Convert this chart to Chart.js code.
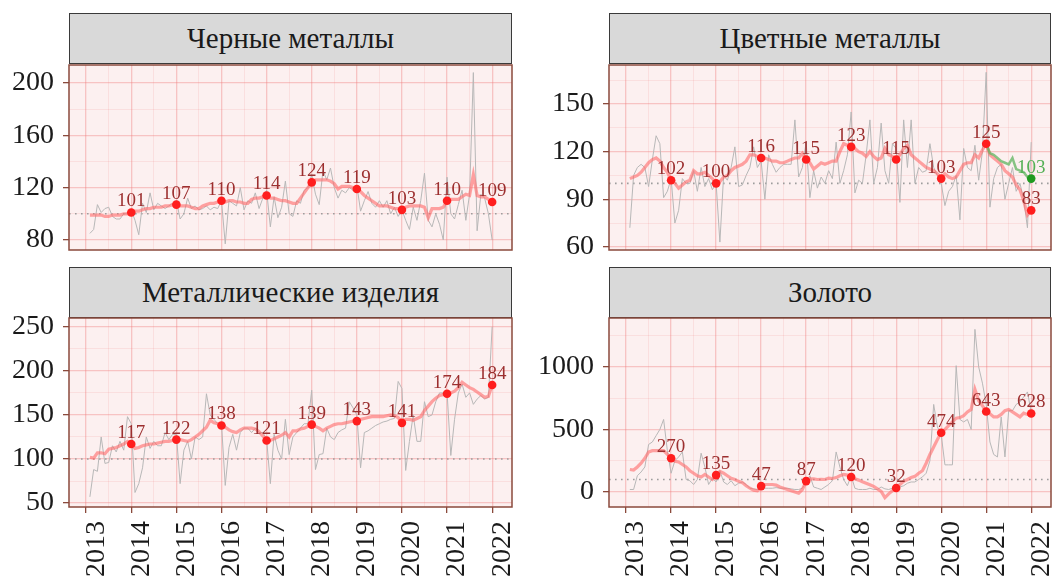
<!DOCTYPE html>
<html>
<head>
<meta charset="utf-8">
<script src="https://cdn.jsdelivr.net/npm/chart.js@4.4.0/dist/chart.umd.min.js"></script>
<style>
html, body { margin: 0; padding: 0; background: #fff; }
body { width: 1062px; height: 582px; position: relative; overflow: hidden; }
canvas { position: absolute; left: 0; top: 0; }
.strip { position: absolute; box-sizing: border-box; background: #d9d9d9; border: 1px solid #3a3a3a;
         color: #1a1a1a; font-family: 'Liberation Serif', 'Times New Roman', Tinos, 'DejaVu Serif', serif;
         font-size: 29px; text-align: center; line-height: 49px; }
</style>
</head>
<body>
<div class="strip" style="left:69px;top:13px;width:443px;height:51px">Черные металлы</div>
<div class="strip" style="left:609px;top:13px;width:442px;height:51px">Цветные металлы</div>
<div class="strip" style="left:69px;top:267px;width:443px;height:51px">Металлические изделия</div>
<div class="strip" style="left:609px;top:267px;width:442px;height:51px">Золото</div>
<canvas id="c0" width="1062" height="582"></canvas>
<canvas id="c1" width="1062" height="582"></canvas>
<canvas id="c2" width="1062" height="582"></canvas>
<canvas id="c3" width="1062" height="582"></canvas>
<script>
// monthly index values, Jan 2013 .. Dec 2021 (one row per year)
const ferrousRaw = [
    85, 88, 107, 101, 104, 105, 98, 96, 96, 100, 100, 103,
    95, 84, 108, 101, 116, 103, 108, 106, 104, 106, 108, 110,
    96, 100, 112, 104, 106, 103, 104, 106, 103, 105, 104, 110,
    77, 110, 108, 106, 120, 103, 110, 108, 116, 104, 112, 118,
    90, 113, 97, 105, 125, 100, 98, 110, 108, 118, 120, 130,
    115, 107, 133, 126, 135, 120, 112, 118, 116, 120, 118, 122,
    102, 110, 117, 108, 105, 110, 105, 110, 100, 105, 98, 103,
    95, 88, 105, 95, 110, 131, 95, 90, 100, 92, 80, 128,
    100, 96, 107, 118, 95, 115, 208, 87, 115, 112, 100, 80
];
const ferrousTrend = [
    99, 99, 99, 99, 98, 98, 99, 99, 99, 100, 100, 101,
    102, 102, 103, 104, 104, 105, 105, 105, 106, 106, 107, 107,
    106, 106, 106, 105, 104, 104, 106, 107, 108, 108, 109, 110,
    109, 110, 110, 109, 109, 108, 108, 111, 112, 112, 113, 114,
    112, 112, 111, 110, 110, 109, 108, 108, 112, 116, 120, 124,
    126, 126, 126, 126, 125, 123, 119, 121, 121, 121, 120, 119,
    117, 114, 112, 110, 108, 106, 106, 106, 105, 104, 104, 103,
    105, 106, 106, 106, 106, 105, 97, 104, 104, 104, 105, 110,
    111, 111, 111, 113, 115, 114, 130, 114, 113, 113, 111, 109
];
const ferrousYear = [101, 107, 110, 114, 124, 119, 103, 110, 109];

const nonferrousRaw = [
    72, 105, 110, 112, 110, 98, 115, 130, 125, 91, 95, 103,
    75, 83, 103, 100, 100, 108, 95, 110, 98, 103, 96, 100,
    63, 105, 102, 110, 123, 98, 99, 105, 110, 123, 110, 114,
    90, 118, 112, 107, 110, 112, 112, 112, 140, 104, 110, 126,
    91, 108, 97, 104, 100, 108, 103, 126, 100, 108, 118, 145,
    94, 102, 100, 118, 140, 100, 110, 138, 108, 100, 125, 122,
    88, 140, 110, 140, 100, 110, 107, 108, 125, 110, 105, 100,
    86, 95, 98, 105, 77, 122, 110, 108, 124, 102, 120, 170,
    85, 103, 110, 112, 90, 100, 110, 95, 100, 90, 72, 126
];
const nonferrousTrend = [
    103, 104, 105, 107, 110, 113, 115, 116, 114, 110, 107, 102,
    100, 97, 99, 101, 102, 108, 106, 106, 107, 105, 103, 100,
    101, 104, 105, 108, 110, 111, 112, 114, 118, 118, 117, 116,
    116, 115, 114, 114, 113, 113, 114, 115, 116, 116, 119, 115,
    113, 109, 111, 113, 112, 113, 114, 114, 120, 125, 124, 123,
    122, 120, 119, 117, 120, 117, 115, 116, 122, 118, 117, 115,
    118, 122, 124, 118, 116, 114, 112, 110, 109, 108, 106, 103,
    106, 104, 103, 104, 108, 112, 113, 113, 118, 116, 121, 125,
    118, 116, 114, 112, 108, 106, 104, 99, 96, 89, 80, 83
];
const nonferrousYear = [102, 100, 116, 115, 123, 115, 103, 125, 83];
// alternative trend, Dec 2020 .. Dec 2021
const nonferrousAlt = [125, 119, 118, 116, 114, 113, 112, 116, 109, 108, 107, 104, 103];

const productsRaw = [
    57, 88, 86, 125, 95, 96, 115, 108, 120, 110, 148, 140,
    62, 72, 90, 125, 112, 120, 115, 115, 130, 122, 128, 128,
    72, 110, 120, 100, 125, 122, 125, 174, 150, 145, 140, 140,
    70, 113, 128, 110, 130, 135, 135, 130, 135, 130, 130, 123,
    72, 128, 110, 100, 145, 105, 125, 130, 135, 140, 140, 178,
    88, 105, 106, 135, 125, 122, 130, 133, 135, 165, 158, 150,
    90, 130, 132, 135, 138, 140, 142, 143, 145, 146, 188, 180,
    87, 120, 150, 120, 120, 165, 148, 150, 165, 175, 175, 176,
    104, 145, 175, 185, 170, 175, 162, 168, 172, 168, 170, 250
];
const productsTrend = [
    102, 101, 107, 107, 106, 111, 112, 113, 115, 117, 120, 117,
    112, 113, 115, 116, 117, 117, 118, 119, 120, 120, 121, 122,
    122, 121, 120, 122, 125, 128, 132, 136, 144, 141, 140, 138,
    136, 133, 131, 130, 133, 135, 135, 135, 134, 131, 126, 121,
    121, 123, 125, 127, 130, 125, 132, 132, 134, 135, 137, 139,
    137, 135, 132, 135, 137, 139, 140, 140, 141, 142, 143, 143,
    145, 146, 147, 148, 148, 148, 148, 149, 150, 149, 147, 141,
    145, 145, 144, 146, 148, 155, 160, 165, 169, 172, 173, 174,
    175, 177, 181, 187, 184, 181, 179, 176, 173, 170, 171, 184
];
const productsYear = [117, 122, 138, 121, 139, 143, 141, 174, 184];

const goldRaw = [
    20, 20, 130, 160, 200, 380, 400, 450, 500, 580, 330, 150,
    250, 280, 320, 100, 90, 60, 100, 310, 200, 60, 110, 80,
    170, 80, 60, 90, 50, 70, 80, 60, 30, 25, 20, 20,
    30, 30, 30, 35, 30, 30, 30, 25, 20, 20, 30, 80,
    130, 40, 30, 20, 40, 60, 90, 320, 200, 100, 50, 130,
    30, 20, 20, 20, 30, 20, 20, 40, 25, 20, 30, 10,
    40, 50, 70, 80, 80, 100, 120, 150, 250, 700, 520, 460,
    217, 217, 217, 1010, 580, 560, 580, 500, 1300, 1000, 870, 700,
    400, 300, 280, 600, 280, 650, 650, 700, 720, 760, 800, 640
];
const goldTrend = [
    180, 175, 200, 230, 270, 320, 330, 330, 330, 330, 300, 270,
    245, 240, 220, 200, 170, 150, 130, 120, 140, 120, 100, 135,
    165, 150, 130, 110, 100, 85, 75, 50, 30, 15, 10, 47,
    60, 60, 60, 55, 40, 30, 20, 10, 0, -10, 20, 87,
    105, 105, 100, 102, 100, 110, 108, 115, 130, 140, 135, 120,
    105, 95, 82, 70, 58, 45, 25, 5, -45, -15, 10, 32,
    60, 85, 100, 115, 125, 150, 170, 230, 300, 360, 420, 474,
    500, 530, 560, 590, 595, 610, 640, 660, 820, 730, 690, 643,
    625, 600, 600, 620, 650, 660, 640, 620, 600, 630, 620, 628
];
const goldYear = [270, 135, 47, 87, 120, 32, 474, 643, 628];

const yearTicks = [2013, 2014, 2015, 2016, 2017, 2018, 2019, 2020, 2021, 2022];
const pointYears = [2014, 2015, 2016, 2017, 2018, 2019, 2020, 2021, 2022];
const ferrousTicks = [80, 120, 160, 200];
const nonferrousTicks = [60, 90, 120, 150];
const productsTicks = [50, 100, 150, 200, 250];
const goldTicks = [0, 500, 1000];
const refLevel = 100;

const W = 1062, H = 582;
const months = ferrousRaw.map((v, i) => 2013 + (i + 1) / 12);

const serifFamily = "'Liberation Serif', 'Times New Roman', Tinos, 'DejaVu Serif', serif";
const panelFill = '#fcf0f0';
const majorGrid = 'rgba(238,120,120,0.38)';
const minorGrid = 'rgba(238,120,120,0.16)';
const axisBrown = '#8b4a3c';
const rawGrey = '#b8b8b8';
const trendRed = 'rgba(255,105,105,0.6)';
const pointRed = '#ff1e1e';
const labelRed = '#9c2f2f';

Chart.defaults.font.family = serifFamily;
Chart.defaults.color = '#1a1a1a';

// minor breaks half way between major ones, kept inside the range
function withMinor(major, min, max) {
    const step = major[1] - major[0];
    const out = [];
    for (let v = major[0] - step / 2; v <= major[major.length - 1] + step / 2; v += step / 2) {
        if (v >= min && v <= max) out.push(v);
    }
    return out;
}

const panelDeco = {
    id: 'panelDeco',
    beforeDraw(chart) {
        const { ctx, chartArea: a } = chart;
        ctx.save();
        ctx.fillStyle = panelFill;
        ctx.fillRect(a.left, a.top, a.width, a.height);
        ctx.restore();
    },
    beforeDatasetsDraw(chart) {
        const { ctx, chartArea: a } = chart;
        const y = chart.scales.y.getPixelForValue(refLevel);
        ctx.save();
        ctx.strokeStyle = '#9d9d9d';
        ctx.lineWidth = 1.6;
        ctx.setLineDash([1.6, 4.4]);
        ctx.beginPath();
        ctx.moveTo(a.left, y);
        ctx.lineTo(a.right, y);
        ctx.stroke();
        ctx.restore();
    },
    afterDatasetsDraw(chart) {
        const ctx = chart.ctx;
        ctx.save();
        ctx.font = '19px ' + serifFamily;
        ctx.textAlign = 'center';
        ctx.textBaseline = 'alphabetic';
        chart.data.datasets.forEach((ds, di) => {
            if (!ds.valueLabels) return;
            ctx.fillStyle = ds.labelColor;
            chart.getDatasetMeta(di).data.forEach((el, i) => {
                ctx.fillText(String(ds.data[i].y), el.x, el.y - 6);
            });
        });
        ctx.restore();
    },
    afterDraw(chart) {
        const { ctx, chartArea: a } = chart;
        ctx.save();
        ctx.strokeStyle = axisBrown;
        ctx.lineWidth = 1.5;
        ctx.strokeRect(a.left, a.top, a.width, a.height);
        ctx.restore();
    }
};

function makePanel(p) {
    const [left, top, right, bottom] = p.box;
    const xAxisH = p.showX ? 75 : 0;
    const yAxisW = Math.min(left, 80);
    const xMin = 2012.62, xMax = 2022.44;
    const yAll = withMinor(p.yMajor, p.yMin, p.yMax);
    const xAll = withMinor(yearTicks, xMin, xMax);

    const datasets = [
        {
            data: pointYears.map((x, i) => ({ x, y: p.year[i] })),
            showLine: false, pointRadius: 4.3, pointBackgroundColor: pointRed, pointBorderWidth: 0,
            valueLabels: true, labelColor: labelRed, order: 0
        },
        {
            data: months.map((x, i) => ({ x, y: p.trend[i] })),
            borderColor: trendRed, borderWidth: 3.2, pointRadius: 0, tension: 0, order: 2
        },
        {
            data: months.map((x, i) => ({ x, y: p.raw[i] })),
            borderColor: rawGrey, borderWidth: 1, pointRadius: 0, tension: 0, order: 4
        }
    ];
    if (p.alt) {
        const start = months.length - p.alt.length;
        datasets.push({
            data: p.alt.map((y, i) => ({ x: months[start + i], y })),
            borderColor: 'rgba(95,180,95,0.75)', borderWidth: 2.5, pointRadius: 0, tension: 0, order: 1
        });
        datasets.push({
            data: [{ x: months[months.length - 1], y: p.alt[p.alt.length - 1] }],
            showLine: false, pointRadius: 4.3, pointBackgroundColor: '#1f9a1f', pointBorderWidth: 0,
            valueLabels: true, labelColor: '#55b055', order: 0
        });
    }

    new Chart(document.getElementById(p.id), {
        type: 'line',
        data: { datasets },
        options: {
            responsive: false,
            animation: false,
            events: [],
            layout: { padding: { left: left - yAxisW, top: top, right: W - right, bottom: H - bottom - xAxisH } },
            plugins: { legend: { display: false }, tooltip: { enabled: false } },
            scales: {
                x: {
                    type: 'linear', min: xMin, max: xMax,
                    afterBuildTicks: s => { s.ticks = xAll.map(v => ({ value: v })); },
                    afterFit: s => { s.height = xAxisH; s.paddingLeft = 0; s.paddingRight = 0; },
                    border: { display: false },
                    grid: {
                        color: c => Number.isInteger(c.tick.value) ? majorGrid : minorGrid,
                        lineWidth: c => Number.isInteger(c.tick.value) ? 1.3 : 0.9,
                        tickColor: c => Number.isInteger(c.tick.value) ? axisBrown : 'rgba(0,0,0,0)',
                        tickLength: 6, drawTicks: p.showX
                    },
                    ticks: {
                        display: p.showX, autoSkip: false, minRotation: 90, maxRotation: 90,
                        padding: 8, labelOffset: 10, font: { size: 28 }, color: '#1a1a1a',
                        callback: v => Number.isInteger(v) ? String(v) : ''
                    }
                },
                y: {
                    type: 'linear', min: p.yMin, max: p.yMax,
                    afterBuildTicks: s => { s.ticks = yAll.map(v => ({ value: v })); },
                    afterFit: s => { s.width = yAxisW; s.paddingTop = 0; s.paddingBottom = 0; },
                    border: { display: false },
                    grid: {
                        color: c => p.yMajor.includes(c.tick.value) ? majorGrid : minorGrid,
                        lineWidth: c => p.yMajor.includes(c.tick.value) ? 1.3 : 0.9,
                        tickColor: c => p.yMajor.includes(c.tick.value) ? axisBrown : 'rgba(0,0,0,0)',
                        tickLength: 6
                    },
                    ticks: {
                        autoSkip: false, padding: 9, font: { size: 28 }, color: '#1a1a1a',
                        callback: v => p.yMajor.includes(v) ? String(v) : ''
                    }
                }
            }
        },
        plugins: [panelDeco]
    });
}

makePanel({ id: 'c0', raw: ferrousRaw, trend: ferrousTrend, year: ferrousYear,
    yMin: 72.3, yMax: 213.8, yMajor: ferrousTicks, box: [69, 65, 512, 250], showX: false });
makePanel({ id: 'c1', raw: nonferrousRaw, trend: nonferrousTrend, year: nonferrousYear, alt: nonferrousAlt,
    yMin: 58, yMax: 174.6, yMajor: nonferrousTicks, box: [609, 65, 1051, 250], showX: false });
makePanel({ id: 'c2', raw: productsRaw, trend: productsTrend, year: productsYear,
    yMin: 45.5, yMax: 260, yMajor: productsTicks, box: [69, 318, 512, 507], showX: true });
makePanel({ id: 'c3', raw: goldRaw, trend: goldTrend, year: goldYear,
    yMin: -120, yMax: 1391, yMajor: goldTicks, box: [609, 318, 1051, 507], showX: true });
</script>
</body>
</html>
